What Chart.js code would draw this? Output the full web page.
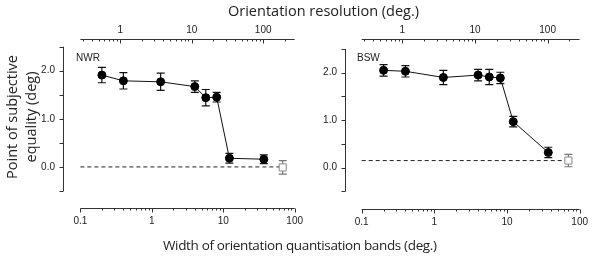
<html>

<head>
    <title>PSE vs quantisation band width</title>
    <meta name="viewport" content="width=device-width, initial-scale=1">
    <script src="https://cdn.jsdelivr.net/npm/chart.js"></script>
    <style>
        body {
            margin: 0;
            background: #fff;
            width: 595px;
            height: 258px;
            overflow: hidden;
            position: relative;
            font-family: 'Open Sans', sans-serif;
            color: #222;
        }

        canvas {
            position: absolute;
            top: 0;
        }

        .title {
            position: absolute;
            font-size: 14.5px;
            white-space: nowrap;
            line-height: 19px;
        }

        .subject {
            position: absolute;
            font-family: 'Liberation Sans', Arial, sans-serif;
            font-size: 10px;
        }
    </style>
</head>

<body>
    <canvas id="nwrChart" width="310" height="258" style="left:0"></canvas>
    <canvas id="bswChart" width="295" height="258" style="left:300px"></canvas>
    <div class="title" id="topTitle" style="left:228px; top:1px">Orientation resolution (deg.)</div>
    <div class="title" id="bottomTitle" style="left:163px; top:236px; font-size:13.5px; letter-spacing:-0.35px">Width of orientation quantisation bands (deg.)</div>
    <div class="title" id="yTitle"
        style="left:-41px; top:98px; width:124px; text-align:center; transform:rotate(-90deg)">Point of subjective<br>equality (deg)</div>
    <div class="subject" style="left:76px; top:52px">NWR</div>
    <div class="subject" style="left:357px; top:52px">BSW</div>
</body>
<script>
    // band widths (deg.) of the quantised conditions
    const bandWidths = [0.2, 0.4, 1.33, 4, 5.7, 8.1, 12.2, 37]

    // observer NWR
    const nwrPse = [1.91, 1.79, 1.77, 1.67, 1.44, 1.45, 0.18, 0.16]
    const nwrErr = [0.16, 0.17, 0.18, 0.12, 0.17, 0.10, 0.10, 0.09]
    const nwrControlX = [68]
    const nwrControl = [-0.01]
    const nwrControlErr = [0.14]
    const nwrBaseline = 0.0

    // observer BSW
    const bswPse = [2.05, 2.03, 1.90, 1.95, 1.91, 1.89, 0.97, 0.32]
    const bswErr = [0.12, 0.12, 0.15, 0.12, 0.16, 0.12, 0.11, 0.11]
    const bswControlX = [70]
    const bswControl = [0.15]
    const bswControlErr = [0.13]
    const bswBaseline = 0.15

    // axis labels
    const yTickLabels = [0, 1, 2]
    const yTickMarks = [-0.5, 0, 0.5, 1, 1.5, 2, 2.5]
    const bottomTickLabels = [0.1, 1, 10, 100]
    const topTickLabels = [1, 10, 100]
    const resolutionFactor = 2.76 // top axis value = bottom value * factor

    const axisColor = '#333'
    const tickFont = { family: "'Liberation Sans', Arial, sans-serif", size: 10 }

    // axis lines and tick marks, detached from the plot corner
    const axisPlugin = {
        id: 'axisLines',
        afterDraw(chart) {
            const { ctx, chartArea } = chart
            const x = chart.scales.x
            const xTop = chart.scales.x2
            const y = chart.scales.y
            ctx.save()
            ctx.strokeStyle = axisColor
            ctx.lineWidth = 1
            ctx.beginPath()

            // y axis
            const yx = chartArea.left + 0.5
            ctx.moveTo(yx, y.getPixelForValue(-0.5))
            ctx.lineTo(yx, y.getPixelForValue(2.5))
            yTickMarks.forEach(v => {
                const p = Math.round(y.getPixelForValue(v)) + 0.5
                ctx.moveTo(yx, p)
                ctx.lineTo(yx - 4, p)
            })

            // bottom axis
            const by = chartArea.bottom + 0.5
            const x0 = x.getPixelForValue(0.1)
            const x1 = x.getPixelForValue(100)
            ctx.moveTo(x0, by)
            ctx.lineTo(x1, by)
            for (let d = 0.1; d < 100; d *= 10) {
                for (let m = 1; m < 10; m++) {
                    const p = Math.round(x.getPixelForValue(d * m)) + 0.5
                    ctx.moveTo(p, by)
                    ctx.lineTo(p, by + (m === 1 ? 4 : 2))
                }
            }
            const pEnd = Math.round(x1) + 0.5
            ctx.moveTo(pEnd, by)
            ctx.lineTo(pEnd, by + 4)

            // top axis
            const ty = chartArea.top + 0.5
            ctx.moveTo(x0, ty)
            ctx.lineTo(x1, ty)
            for (let d = 0.1; d < 1000; d *= 10) {
                for (let m = 1; m < 10; m++) {
                    const p = xTop.getPixelForValue(d * m)
                    if (p < x0 - 0.5 || p > x1 + 0.5) continue
                    const pr = Math.round(p) + 0.5
                    ctx.moveTo(pr, ty)
                    ctx.lineTo(pr, ty + (m === 1 ? 4 : 2))
                }
            }
            ctx.stroke()
            ctx.restore()
        }
    }

    // vertical error bars with caps
    const errorBarPlugin = {
        id: 'errorBars',
        beforeDatasetsDraw(chart) {
            const { ctx } = chart
            const x = chart.scales.x
            const y = chart.scales.y
            ctx.save()
            ctx.lineWidth = 1.2
            chart.data.datasets.forEach(ds => {
                if (!ds.errors) return
                ctx.strokeStyle = ds.errorColor
                ctx.beginPath()
                ds.data.forEach((pt, i) => {
                    const px = x.getPixelForValue(pt.x)
                    const top = y.getPixelForValue(pt.y + ds.errors[i])
                    const bot = y.getPixelForValue(pt.y - ds.errors[i])
                    ctx.moveTo(px, top)
                    ctx.lineTo(px, bot)
                    ctx.moveTo(px - 4, top)
                    ctx.lineTo(px + 4, top)
                    ctx.moveTo(px - 4, bot)
                    ctx.lineTo(px + 4, bot)
                })
                ctx.stroke()
            })
            ctx.restore()
        }
    }

    const makePanel = (canvasId, p) => {
        const ctx = document.getElementById(canvasId).getContext('2d')
        return new Chart(ctx, {
            type: 'line',
            data: {
                datasets: [{
                    label: 'quantised',
                    data: bandWidths.map((w, i) => ({ x: w, y: p.pse[i] })),
                    errors: p.err,
                    errorColor: '#111',
                    borderColor: '#111',
                    borderWidth: 1,
                    pointRadius: 4,
                    pointBackgroundColor: '#000',
                    pointBorderColor: '#000',
                    pointBorderWidth: 1
                }, {
                    label: 'control',
                    data: p.controlX.map((w, i) => ({ x: w, y: p.control[i] })),
                    errors: p.controlErr,
                    errorColor: '#777',
                    showLine: false,
                    pointStyle: 'rect',
                    pointRadius: 5,
                    pointBackgroundColor: '#fff',
                    pointBorderColor: '#888',
                    pointBorderWidth: 1
                }, {
                    label: 'baseline',
                    data: [{ x: 0.1, y: p.baseline }, { x: p.controlX[0], y: p.baseline }],
                    borderColor: '#222',
                    borderWidth: 1,
                    borderDash: [4, 3],
                    pointRadius: 0
                }]
            },
            options: {
                responsive: false,
                animation: false,
                layout: { autoPadding: false, padding: { left: 0, right: p.padRight, top: 0, bottom: 0 } },
                plugins: { legend: { display: false }, tooltip: { enabled: false } },
                scales: {
                    x: {
                        type: 'logarithmic',
                        position: 'bottom',
                        min: p.xMin,
                        max: 100,
                        grid: { display: false, drawTicks: false },
                        border: { display: false },
                        afterBuildTicks: s => { s.ticks = bottomTickLabels.map(v => ({ value: v })) },
                        afterFit: s => { s.height = p.bottomH },
                        ticks: { padding: 7, maxRotation: 0, autoSkip: false, color: '#222', font: tickFont, callback: v => String(v) }
                    },
                    x2: {
                        type: 'logarithmic',
                        position: 'top',
                        min: p.xMin * resolutionFactor,
                        max: 100 * resolutionFactor,
                        grid: { display: false, drawTicks: false },
                        border: { display: false },
                        afterBuildTicks: s => { s.ticks = topTickLabels.map(v => ({ value: v })) },
                        afterFit: s => { s.height = 39 },
                        ticks: { padding: 3, maxRotation: 0, autoSkip: false, color: '#222', font: tickFont, callback: v => String(v) }
                    },
                    y: {
                        min: p.yMin,
                        max: p.yMax,
                        grid: { display: false, drawTicks: false },
                        border: { display: false },
                        afterBuildTicks: s => { s.ticks = yTickLabels.map(v => ({ value: v })) },
                        afterFit: s => { s.width = p.yW },
                        ticks: { padding: 8, color: '#222', font: tickFont, callback: v => v.toFixed(1) }
                    }
                }
            },
            plugins: [axisPlugin, errorBarPlugin]
        })
    }

    makePanel('nwrChart', {
        pse: nwrPse, err: nwrErr,
        controlX: nwrControlX, control: nwrControl, controlErr: nwrControlErr,
        baseline: nwrBaseline,
        xMin: 0.0571, yMin: -0.854, yMax: 2.66,
        yW: 63, padRight: 7, bottomH: 50
    })

    makePanel('bswChart', {
        pse: bswPse, err: bswErr,
        controlX: bswControlX, control: bswControl, controlErr: bswControlErr,
        baseline: bswBaseline,
        xMin: 0.0589, yMin: -0.87, yMax: 2.71,
        yW: 45, padRight: 11, bottomH: 49
    })
</script>

</html>
